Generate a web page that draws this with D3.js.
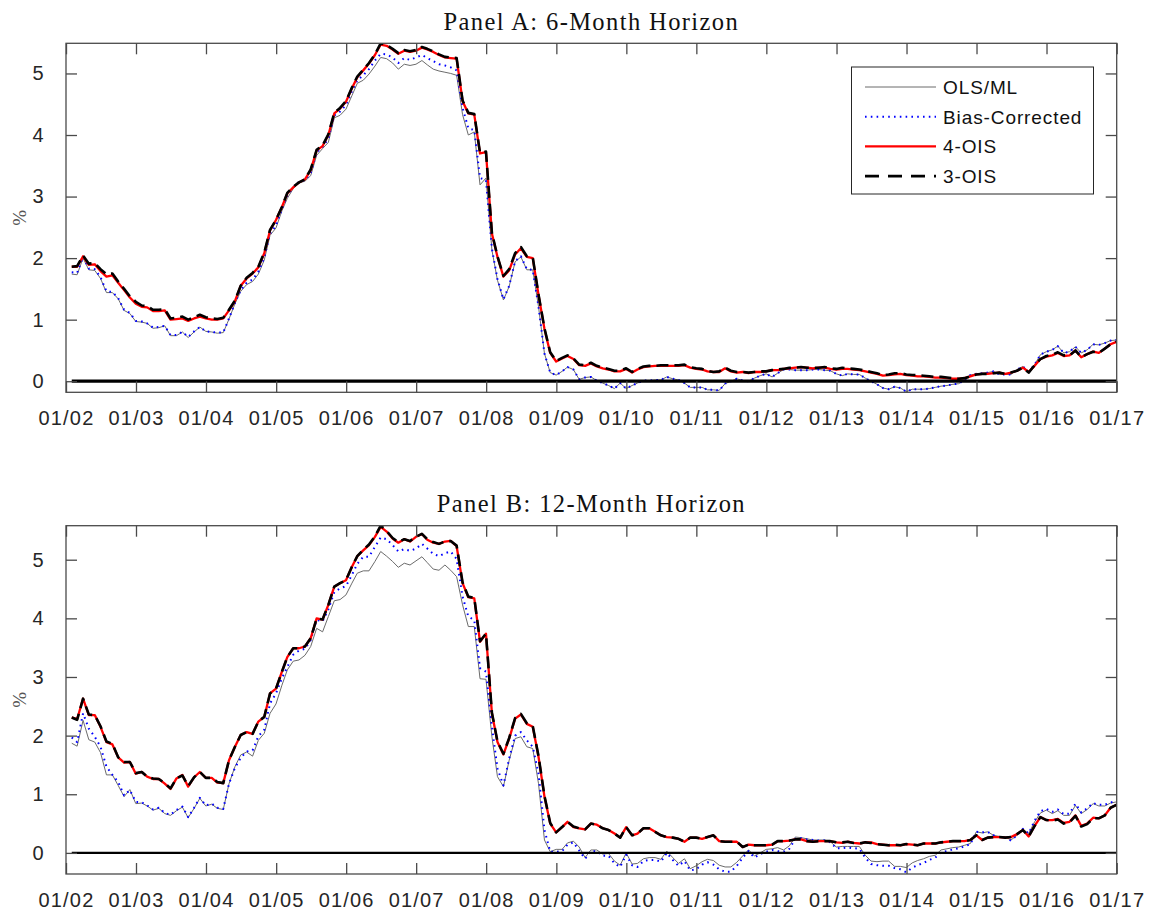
<!DOCTYPE html>
<html><head><meta charset="utf-8">
<script src="https://cdn.jsdelivr.net/npm/d3@7"></script>
<style>
html,body{margin:0;padding:0;background:#fff;}
svg{display:block;}
</style></head>
<body>
<svg id="chart" width="1153" height="915"></svg>
<script>
// ---------- DATA (monthly, end of month, Jan 2002 – Dec 2016) ----------
const firstMonth = "2002-01";
const nMonths = 180;
const xTickYears = [2002,2003,2004,2005,2006,2007,2008,2009,2010,2011,2012,2013,2014,2015,2016,2017];
const yTickValues = [0,1,2,3,4,5];
const seriesNames = ["OLS/ML","Bias-Corrected","4-OIS","3-OIS"];
const panelTitles = ["Panel A: 6-Month Horizon","Panel B: 12-Month Horizon"];

// Panel A: 6-month horizon
const olsA = [1.74,1.73,2.00,1.81,1.80,1.67,1.44,1.44,1.34,1.15,
1.10,0.97,0.96,0.94,0.86,0.87,0.90,0.74,0.74,0.80,
0.71,0.80,0.88,0.81,0.80,0.78,0.79,1.01,1.26,1.46,
1.57,1.62,1.74,1.97,2.37,2.49,2.77,2.97,3.13,3.22,
3.25,3.34,3.67,3.78,3.88,4.28,4.32,4.42,4.64,4.84,
4.89,4.99,5.12,5.26,5.24,5.17,5.07,5.15,5.13,5.15,
5.21,5.14,5.07,5.04,5.02,5.00,4.97,4.33,4.00,4.05,
3.19,3.30,2.13,1.64,1.32,1.54,1.94,2.02,1.81,1.81,
1.21,0.45,0.14,0.10,0.16,0.23,0.19,0.03,0.06,0.07,
0.01,-0.03,-0.07,-0.12,-0.03,-0.12,-0.07,-0.03,0.01,0.01,
0.02,0.02,0.07,0.04,0.02,-0.03,-0.10,-0.10,-0.10,-0.14,
-0.14,-0.15,-0.04,0.00,0.04,0.01,0.00,0.05,0.09,0.12,
0.07,0.13,0.19,0.19,0.18,0.18,0.18,0.19,0.19,0.18,
0.17,0.12,0.09,0.12,0.11,0.11,0.05,0.00,-0.05,-0.11,
-0.13,-0.09,-0.11,-0.17,-0.13,-0.13,-0.13,-0.12,-0.10,-0.08,
-0.07,-0.05,-0.04,0.02,0.10,0.12,0.13,0.14,0.16,0.11,
0.11,0.11,0.19,0.24,0.16,0.27,0.43,0.48,0.51,0.57,
0.46,0.48,0.56,0.46,0.51,0.60,0.59,0.62,0.66,0.67];
const biasA = [1.77,1.76,2.02,1.83,1.82,1.69,1.46,1.45,1.35,1.16,
1.11,0.98,0.97,0.94,0.87,0.88,0.90,0.75,0.75,0.80,
0.72,0.81,0.88,0.81,0.80,0.79,0.79,1.02,1.27,1.48,
1.60,1.65,1.78,2.01,2.40,2.53,2.80,3.02,3.15,3.24,
3.27,3.38,3.72,3.81,3.94,4.32,4.38,4.49,4.71,4.89,
4.97,5.07,5.21,5.32,5.31,5.26,5.17,5.25,5.22,5.26,
5.30,5.25,5.20,5.15,5.13,5.10,5.05,4.44,4.11,4.08,
3.30,3.27,2.15,1.66,1.33,1.55,1.95,2.03,1.82,1.81,
1.21,0.45,0.14,0.10,0.16,0.23,0.19,0.03,0.06,0.07,
0.01,-0.03,-0.07,-0.12,-0.03,-0.12,-0.07,-0.03,0.01,0.01,
0.02,0.02,0.07,0.04,0.02,-0.03,-0.10,-0.10,-0.10,-0.14,
-0.14,-0.15,-0.04,0.00,0.04,0.01,0.00,0.05,0.09,0.12,
0.07,0.13,0.19,0.19,0.18,0.18,0.18,0.19,0.19,0.18,
0.17,0.12,0.09,0.12,0.11,0.11,0.05,0.00,-0.05,-0.11,
-0.13,-0.09,-0.11,-0.17,-0.13,-0.13,-0.13,-0.12,-0.10,-0.08,
-0.07,-0.05,-0.04,0.02,0.10,0.12,0.13,0.14,0.16,0.11,
0.11,0.11,0.19,0.24,0.16,0.27,0.43,0.48,0.51,0.57,
0.46,0.48,0.56,0.46,0.51,0.60,0.59,0.62,0.66,0.67];
const ois4A = [1.86,1.86,2.03,1.89,1.90,1.79,1.70,1.72,1.60,1.48,
1.36,1.26,1.21,1.20,1.14,1.14,1.15,1.00,1.01,1.02,
0.98,1.02,1.05,1.02,1.00,1.00,1.02,1.15,1.30,1.55,
1.67,1.75,1.85,2.08,2.45,2.62,2.83,3.05,3.15,3.23,
3.28,3.43,3.75,3.82,4.00,4.35,4.43,4.54,4.76,4.94,
5.05,5.16,5.30,5.47,5.45,5.39,5.32,5.37,5.35,5.37,
5.42,5.39,5.35,5.30,5.26,5.25,5.24,4.55,4.35,4.33,
3.70,3.72,2.40,2.02,1.70,1.80,2.06,2.16,2.02,2.00,
1.40,0.85,0.46,0.32,0.37,0.41,0.36,0.26,0.25,0.29,
0.24,0.21,0.19,0.16,0.16,0.20,0.14,0.19,0.23,0.24,
0.25,0.25,0.25,0.25,0.25,0.26,0.22,0.20,0.19,0.16,
0.15,0.15,0.21,0.16,0.14,0.15,0.13,0.15,0.15,0.16,
0.18,0.18,0.20,0.21,0.22,0.23,0.22,0.21,0.22,0.22,
0.20,0.19,0.20,0.20,0.19,0.18,0.16,0.14,0.12,0.09,
0.10,0.11,0.12,0.10,0.09,0.08,0.08,0.07,0.06,0.06,
0.05,0.04,0.04,0.05,0.08,0.11,0.12,0.12,0.13,0.14,
0.12,0.14,0.17,0.22,0.15,0.25,0.36,0.40,0.42,0.46,
0.41,0.42,0.50,0.39,0.44,0.48,0.46,0.53,0.60,0.64];
const ois3A = [1.86,1.87,2.04,1.91,1.92,1.82,1.74,1.75,1.62,1.50,
1.38,1.29,1.23,1.22,1.16,1.16,1.17,1.02,1.03,1.05,
1.00,1.04,1.08,1.04,1.02,1.01,1.03,1.16,1.31,1.55,
1.68,1.76,1.86,2.09,2.46,2.62,2.83,3.06,3.16,3.23,
3.28,3.44,3.76,3.83,4.01,4.36,4.44,4.55,4.77,4.95,
5.06,5.17,5.31,5.49,5.46,5.40,5.33,5.38,5.36,5.38,
5.43,5.40,5.36,5.31,5.27,5.26,5.25,4.56,4.36,4.34,
3.71,3.73,2.41,2.03,1.71,1.82,2.08,2.18,2.03,2.01,
1.41,0.86,0.47,0.33,0.38,0.42,0.37,0.27,0.26,0.30,
0.25,0.22,0.20,0.17,0.17,0.21,0.15,0.20,0.24,0.25,
0.25,0.26,0.26,0.26,0.26,0.27,0.23,0.21,0.20,0.17,
0.15,0.16,0.22,0.17,0.15,0.15,0.14,0.15,0.16,0.16,
0.18,0.19,0.20,0.22,0.22,0.23,0.22,0.22,0.22,0.23,
0.21,0.20,0.22,0.21,0.20,0.19,0.17,0.15,0.13,0.10,
0.11,0.13,0.13,0.11,0.10,0.10,0.09,0.08,0.07,0.07,
0.06,0.05,0.04,0.05,0.08,0.11,0.12,0.12,0.13,0.14,
0.12,0.14,0.17,0.22,0.14,0.26,0.36,0.41,0.43,0.47,
0.42,0.42,0.50,0.39,0.44,0.48,0.46,0.53,0.60,0.64];

// Panel B: 12-month horizon
const olsB = [1.87,1.82,2.26,1.93,1.89,1.71,1.33,1.33,1.15,0.96,
1.08,0.84,0.85,0.80,0.73,0.76,0.67,0.64,0.72,0.78,
0.60,0.76,0.93,0.80,0.83,0.76,0.74,1.18,1.47,1.67,
1.72,1.65,1.92,2.04,2.38,2.54,2.86,3.12,3.27,3.29,
3.37,3.52,3.83,3.77,4.03,4.30,4.32,4.40,4.60,4.77,
4.81,4.81,4.97,5.14,5.06,4.97,4.87,4.94,4.91,4.98,
5.05,4.95,4.84,4.82,4.91,4.82,4.71,4.23,3.86,3.86,
2.97,2.96,1.98,1.30,1.13,1.58,1.95,1.98,1.81,1.78,
1.18,0.22,0.02,0.06,0.06,0.17,0.20,0.10,-0.08,0.05,
0.05,-0.02,-0.01,-0.14,-0.21,0.00,-0.19,-0.18,-0.10,-0.08,
-0.08,-0.11,0.03,-0.08,-0.18,-0.10,-0.27,-0.22,-0.15,-0.11,
-0.13,-0.21,-0.24,-0.24,-0.16,-0.05,0.05,-0.05,0.00,0.06,
0.07,0.09,0.05,0.12,0.27,0.26,0.24,0.22,0.22,0.22,
0.19,0.10,0.11,0.11,0.11,0.11,-0.04,-0.14,-0.15,-0.14,
-0.14,-0.23,-0.23,-0.25,-0.17,-0.13,-0.10,-0.06,-0.04,0.05,
0.07,0.09,0.10,0.13,0.16,0.36,0.34,0.36,0.30,0.28,
0.27,0.22,0.30,0.40,0.33,0.53,0.68,0.73,0.67,0.72,
0.64,0.64,0.81,0.67,0.74,0.84,0.80,0.80,0.85,0.87];
const biasB = [1.97,1.89,2.38,2.12,1.98,1.81,1.47,1.33,1.21,0.98,
1.07,0.87,0.86,0.81,0.74,0.77,0.68,0.65,0.73,0.79,
0.61,0.77,0.94,0.81,0.84,0.77,0.75,1.18,1.45,1.62,
1.73,1.75,1.99,2.10,2.55,2.72,2.98,3.17,3.38,3.45,
3.48,3.63,3.97,3.95,4.15,4.45,4.51,4.55,4.74,4.93,
5.05,5.05,5.22,5.38,5.35,5.25,5.14,5.18,5.15,5.19,
5.27,5.19,5.10,5.06,5.11,5.14,5.01,4.37,4.03,3.97,
3.15,3.09,2.15,1.44,1.15,1.61,2.00,2.06,1.92,1.81,
1.35,0.39,0.02,0.02,0.03,0.14,0.18,0.04,-0.10,0.03,
0.03,-0.05,-0.05,-0.18,-0.24,-0.03,-0.21,-0.24,-0.14,-0.12,
-0.12,-0.15,0.00,-0.12,-0.22,-0.14,-0.30,-0.28,-0.20,-0.16,
-0.20,-0.28,-0.32,-0.32,-0.22,-0.08,0.03,-0.08,-0.02,0.02,
0.05,0.03,0.02,0.07,0.24,0.25,0.23,0.22,0.21,0.21,
0.18,0.08,0.08,0.09,0.08,0.07,-0.08,-0.19,-0.21,-0.22,
-0.22,-0.26,-0.28,-0.33,-0.25,-0.21,-0.17,-0.12,-0.08,0.01,
0.03,0.06,0.08,0.11,0.15,0.36,0.35,0.36,0.30,0.27,
0.26,0.21,0.30,0.41,0.33,0.55,0.71,0.75,0.70,0.74,
0.66,0.67,0.84,0.69,0.76,0.85,0.82,0.82,0.86,0.88];
const ois4B = [2.31,2.28,2.63,2.35,2.35,2.15,1.89,1.85,1.63,1.54,
1.55,1.35,1.38,1.30,1.26,1.26,1.18,1.09,1.27,1.33,
1.13,1.29,1.38,1.28,1.28,1.20,1.19,1.58,1.81,2.01,
2.06,2.03,2.24,2.32,2.72,2.80,3.09,3.34,3.49,3.49,
3.52,3.66,4.00,3.98,4.23,4.54,4.60,4.65,4.88,5.06,
5.16,5.25,5.39,5.56,5.48,5.36,5.29,5.35,5.31,5.39,
5.44,5.34,5.29,5.27,5.31,5.32,5.23,4.60,4.36,4.34,
3.60,3.74,2.38,1.89,1.68,1.95,2.29,2.36,2.20,2.15,
1.64,0.96,0.50,0.35,0.44,0.53,0.44,0.42,0.40,0.50,
0.48,0.42,0.39,0.33,0.26,0.44,0.30,0.33,0.42,0.42,
0.36,0.30,0.27,0.26,0.24,0.19,0.26,0.26,0.24,0.27,
0.30,0.20,0.19,0.19,0.19,0.10,0.14,0.13,0.13,0.13,
0.14,0.20,0.20,0.21,0.23,0.23,0.20,0.19,0.20,0.20,
0.20,0.18,0.17,0.19,0.17,0.16,0.18,0.18,0.15,0.14,
0.13,0.13,0.13,0.15,0.14,0.13,0.16,0.16,0.16,0.18,
0.19,0.20,0.20,0.20,0.22,0.30,0.22,0.26,0.27,0.27,
0.26,0.27,0.32,0.39,0.28,0.46,0.61,0.56,0.56,0.58,
0.51,0.53,0.64,0.46,0.50,0.60,0.59,0.64,0.77,0.82];
const ois3B = [2.31,2.27,2.63,2.36,2.35,2.16,1.90,1.86,1.63,1.55,
1.55,1.36,1.38,1.30,1.27,1.26,1.19,1.10,1.27,1.32,
1.14,1.29,1.38,1.28,1.28,1.21,1.19,1.58,1.81,2.01,
2.06,2.03,2.24,2.32,2.72,2.80,3.09,3.34,3.49,3.49,
3.52,3.66,4.00,3.98,4.23,4.54,4.60,4.65,4.88,5.06,
5.17,5.26,5.40,5.58,5.49,5.37,5.30,5.35,5.32,5.39,
5.44,5.35,5.30,5.27,5.31,5.32,5.24,4.61,4.37,4.35,
3.61,3.74,2.39,1.90,1.69,1.96,2.30,2.37,2.21,2.16,
1.65,0.97,0.51,0.35,0.44,0.53,0.45,0.42,0.40,0.50,
0.48,0.42,0.39,0.33,0.26,0.44,0.30,0.33,0.42,0.42,
0.36,0.30,0.27,0.26,0.24,0.19,0.26,0.26,0.24,0.27,
0.30,0.20,0.19,0.19,0.19,0.10,0.14,0.13,0.13,0.13,
0.14,0.20,0.20,0.21,0.23,0.23,0.20,0.19,0.20,0.20,
0.20,0.18,0.18,0.19,0.17,0.16,0.18,0.17,0.15,0.14,
0.13,0.14,0.13,0.15,0.14,0.13,0.16,0.16,0.16,0.18,
0.19,0.20,0.20,0.20,0.22,0.30,0.22,0.26,0.27,0.27,
0.26,0.27,0.32,0.39,0.28,0.46,0.61,0.56,0.55,0.57,
0.50,0.52,0.63,0.45,0.49,0.59,0.59,0.64,0.77,0.82];

// ---------- DRAWING ----------
const svg = d3.select("#chart");
const dates = d3.timeMonth.range(d3.timeParse("%Y-%m")(firstMonth), d3.timeMonth.offset(d3.timeParse("%Y-%m")(firstMonth), nMonths))
  .map(d => d3.timeDay.offset(d3.timeMonth.offset(d, 1), -1));

const left = 66, right = 1116.7;
const x = d3.scaleTime()
  .domain([new Date(xTickYears[0],0,1), new Date(xTickYears[xTickYears.length-1],0,1)])
  .range([left, right]);

const axisColor = "#4a4a4a";
const textColor = "#262626";
const styles = [
  {color:"#6b6b6b", width:1, dash:null},
  {color:"#0000ff", width:2, dash:"1.6,4.2"},
  {color:"#ff0000", width:2.3, dash:null},
  {color:"#000000", width:2.6, dash:"12,6"}
];

function drawPanel(cfg, idx){
  const y = d3.scaleLinear().domain(cfg.yDomain).range([cfg.bottom, cfg.top]);
  const g = svg.append("g");
  const clipId = "clip" + idx;
  svg.append("defs").append("clipPath").attr("id", clipId)
    .append("rect").attr("x", left).attr("y", cfg.top).attr("width", right-left).attr("height", cfg.bottom-cfg.top);

  // title
  g.append("text").attr("x", (left+right)/2).attr("y", cfg.titleY)
    .attr("text-anchor","middle").attr("font-family","'Liberation Serif', serif")
    .attr("font-size", 24.5).attr("letter-spacing", 1.4).attr("fill","#111")
    .text(cfg.title);

  // y label
  g.append("text").attr("transform", `translate(26,${(cfg.top+cfg.bottom)/2}) rotate(-90)`)
    .attr("text-anchor","middle").attr("font-family","'Liberation Serif', serif")
    .attr("font-size", 19).attr("fill","#555").text("%");

  // series
  const lines = g.append("g").attr("clip-path", `url(#${clipId})`);
  cfg.series.forEach((vals, k) => {
    const line = d3.line().x((d,i) => x(dates[i])).y(d => y(d));
    const p = lines.append("path").datum(vals).attr("d", line)
      .attr("fill","none").attr("stroke", styles[k].color)
      .attr("stroke-width", styles[k].width).attr("stroke-linejoin","round");
    if (styles[k].dash) p.attr("stroke-dasharray", styles[k].dash);
    if (k===1) p.attr("stroke-linecap","butt");
  });
  // zero line
  lines.append("line").attr("x1", x(dates[0])).attr("x2", x(dates[dates.length-1]))
    .attr("y1", y(0)).attr("y2", y(0)).attr("stroke","#000").attr("stroke-width", cfg.zeroWidth);

  // box
  g.append("rect").attr("x", left).attr("y", cfg.top).attr("width", right-left).attr("height", cfg.bottom-cfg.top)
    .attr("fill","none").attr("stroke", axisColor).attr("stroke-width", 1.3);

  // axes (ticks inside)
  const tl = 11;
  const xTicks = xTickYears.map(yr => new Date(yr,0,1));
  const axB = d3.axisBottom(x).tickValues(xTicks).tickSizeInner(-tl).tickSizeOuter(0)
    .tickPadding(tl + 8).tickFormat(d3.timeFormat("%m/%y"));
  const gB = g.append("g").attr("transform", `translate(0,${cfg.bottom})`).call(axB);
  const axT = d3.axisTop(x).tickValues(xTicks).tickSizeInner(-tl).tickSizeOuter(0).tickFormat("");
  const gT = g.append("g").attr("transform", `translate(0,${cfg.top})`).call(axT);
  const axL = d3.axisLeft(y).tickValues(yTickValues).tickSizeInner(-tl).tickSizeOuter(0)
    .tickPadding(tl + 11).tickFormat(d3.format("d"));
  const gL = g.append("g").attr("transform", `translate(${left},0)`).call(axL);
  const axR = d3.axisRight(y).tickValues(yTickValues).tickSizeInner(-tl).tickSizeOuter(0).tickFormat("");
  const gR = g.append("g").attr("transform", `translate(${right},0)`).call(axR);
  [gB,gT,gL,gR].forEach(a => {
    a.select(".domain").remove();
    a.selectAll(".tick line").attr("stroke", axisColor).attr("stroke-width", 1.3);
    a.selectAll(".tick text").attr("font-family","'Liberation Sans', Arial, sans-serif")
      .attr("font-size", 20).attr("fill", textColor);
  });
  gB.selectAll(".tick text").attr("letter-spacing", 1.2).attr("dy", "0.71em");
  gL.selectAll(".tick text").attr("letter-spacing", 0.5);

  // legend
  if (cfg.legend){
    const lg = g.append("g");
    const lx = 851.5, ly = 67, lw = 242, lh = 127;
    lg.append("rect").attr("x", lx).attr("y", ly).attr("width", lw).attr("height", lh)
      .attr("fill","#fff").attr("stroke", "#262626").attr("stroke-width", 1);
    seriesNames.forEach((name, k) => {
      const cy = 87 + k*29.7;
      const l = lg.append("line").attr("x1", 865).attr("x2", 936).attr("y1", cy).attr("y2", cy)
        .attr("stroke", styles[k].color).attr("stroke-width", styles[k].width);
      if (styles[k].dash) l.attr("stroke-dasharray", k===3 ? "14,9" : styles[k].dash);
      lg.append("text").attr("x", 943).attr("y", cy + 7)
        .attr("font-family","'Liberation Sans', Arial, sans-serif").attr("font-size", 19)
        .attr("letter-spacing", 0.9).attr("fill","#111").text(name);
    });
  }
}

drawPanel({top:43.3, bottom:392.3, yDomain:[-0.18, 5.49], titleY:30, title:panelTitles[0],
  series:[olsA, biasA, ois4A, ois3A], zeroWidth:3.2, legend:true}, 0);
drawPanel({top:525.7, bottom:874, yDomain:[-0.36, 5.58], titleY:512, title:panelTitles[1],
  series:[olsB, biasB, ois4B, ois3B], zeroWidth:2.2, legend:false}, 1);
</script>
</body></html>
